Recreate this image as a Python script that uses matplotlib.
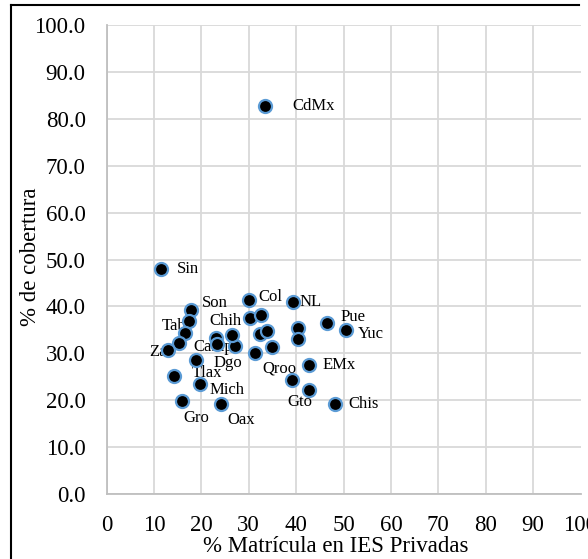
import matplotlib
matplotlib.use('Agg')
import matplotlib.pyplot as plt
from matplotlib.lines import Line2D

# Datos: % matricula en IES privadas vs % de cobertura por entidad
estados = ['CdMx', 'Sin', 'Son', '', 'Tab', '', 'Zac', '', 'Camp', '', 'Chih', '',
           'Dgo', 'Tlax', 'Mich', 'Gro', 'Oax', 'Col', 'NL', '', '', '', '', '',
           '', '', 'Pue', 'Yuc', 'EMx', 'Qroo', 'Gto', 'Chis']
matricula_privada = [33.4, 11.6, 17.8, 17.5, 16.6, 15.4, 12.9, 23.0, 23.3, 27.1, 26.4, 31.3,
                     18.9, 14.2, 19.7, 16.0, 24.1, 30.1, 39.4, 30.3, 32.6, 32.4, 33.8, 34.9,
                     40.3, 40.3, 46.5, 50.5, 42.8, 39.1, 42.8, 48.2]
cobertura = [82.7, 48.0, 39.2, 36.9, 34.3, 32.3, 30.8, 33.2, 32.0, 31.6, 33.9, 30.1,
             28.6, 25.2, 23.4, 19.8, 19.1, 41.4, 40.9, 37.5, 38.2, 34.2, 34.7, 31.4,
             35.4, 33.0, 36.5, 34.9, 27.4, 24.3, 22.2, 19.1]

# desplazamiento de cada etiqueta (pixeles)
offsets = {'CdMx': (28, 0), 'Sin': (15, 0), 'Son': (11, 7), 'Tab': (-23, 7),
           'Zac': (-18, -2), 'Camp': (-24, -3), 'Chih': (-22, 14), 'Dgo': (17, -3),
           'Tlax': (18, 3), 'Mich': (10, -6), 'Gro': (1, -17), 'Oax': (7, -16),
           'Col': (9, 3), 'NL': (6, 0), 'Pue': (14, 6), 'Yuc': (12, -4),
           'EMx': (13, 0), 'Qroo': (-29, 12), 'Gto': (-22, -12), 'Chis': (13, 0)}

plt.rcParams['font.family'] = ['Liberation Serif', 'DejaVu Serif']

fig = plt.figure(figsize=(5.88, 5.59), dpi=100)
ax = fig.add_axes([106.5 / 588, 65 / 559, 474 / 588, 469 / 559])

ax.scatter(matricula_privada, cobertura, s=88, c='black', edgecolors='#5B9BD5',
           linewidths=1.6, zorder=3)

for name, x, y in zip(estados, matricula_privada, cobertura):
    if name:
        ax.annotate(name, (x, y), xytext=offsets[name], textcoords='offset pixels',
                    ha='left', va='center', fontsize=12, zorder=2)

ax.set_xlim(0, 100)
ax.set_ylim(0, 100)
ax.set_xticks(range(0, 101, 10))
ax.set_yticks(range(0, 101, 10))
ax.set_yticklabels([f'{v:.1f}' for v in range(0, 101, 10)])
ax.tick_params(length=0, labelsize=16.5, pad=15)
ax.grid(True, color='#D9D9D9', linewidth=1.3)
ax.set_axisbelow(True)
ax.get_xgridlines()[-1].set_visible(False)
for side in ['top', 'right']:
    ax.spines[side].set_visible(False)
for side in ['left', 'bottom']:
    ax.spines[side].set_color('#BFBFBF')
    ax.spines[side].set_linewidth(1.3)

fig.text(336 / 588, 1 - 546 / 559, '% Matrícula en IES Privadas', ha='center',
         va='center', fontsize=16.5)
fig.text(30 / 588, 1 - 257 / 559, '% de cobertura', ha='center', va='center',
         rotation=90, fontsize=16.5)

# marco exterior
fig.add_artist(Line2D([11 / 588, 579 / 588], [1 - 5 / 559, 1 - 5 / 559],
                      color='black', linewidth=1.5, transform=fig.transFigure))
fig.add_artist(Line2D([11 / 588, 11 / 588], [1 - 5 / 559, 0],
                      color='black', linewidth=1.5, transform=fig.transFigure))

fig.savefig('out.png', dpi=100)
